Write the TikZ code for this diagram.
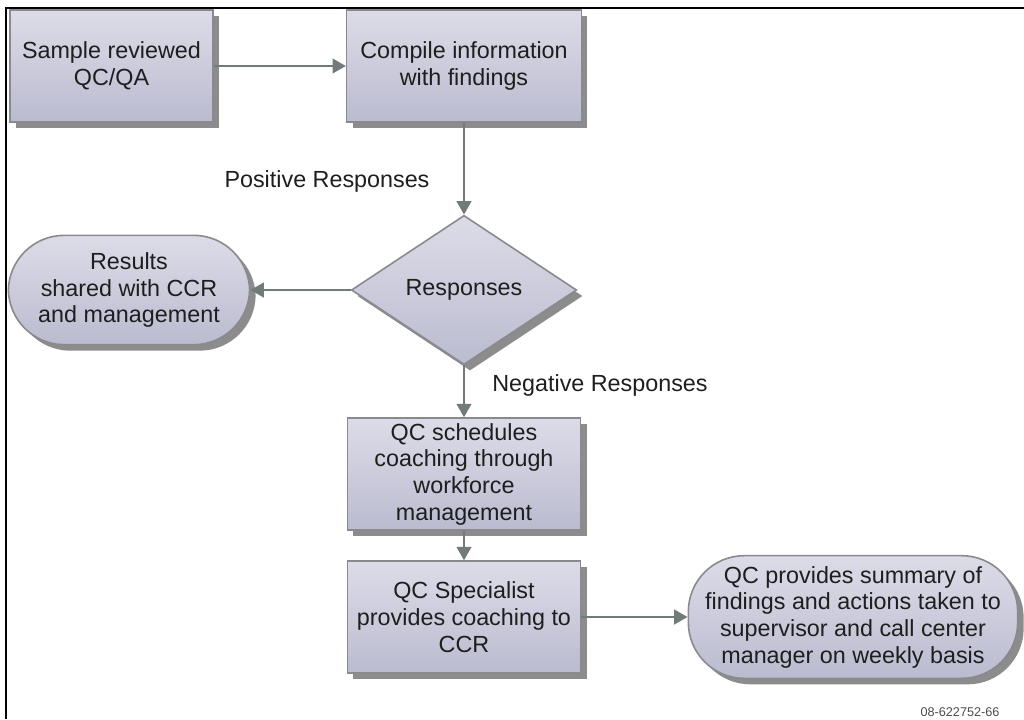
\documentclass[tikz,border=0pt]{standalone}
\usepackage{fontspec}
\setmainfont{Liberation Sans}
\usetikzlibrary{shapes.geometric,shadows,arrows.meta}
\definecolor{boxtop}{HTML}{DCDCE8}
\definecolor{boxbot}{HTML}{BBBBD0}
\definecolor{boxline}{HTML}{8A8A8E}
\definecolor{shade}{HTML}{8C8C8C}
\definecolor{flow}{HTML}{717B79}
\definecolor{ink}{HTML}{1E1E1E}
\tikzset{
  base/.style={draw=boxline, line width=1.2pt, top color=boxtop, bottom color=boxbot,
    text=ink, align=center, font=\fontsize{17.5}{20}\selectfont,
    drop shadow={shadow xshift=4.5pt, shadow yshift=-4.5pt, fill=shade, opacity=1}},
  procbox/.style={base, rectangle, minimum width=#1, minimum height=84pt, inner sep=0pt},
  termbox/.style={base, rectangle, rounded corners=42pt, inner sep=0pt},
  decbox/.style={base, diamond, minimum width=169pt, minimum height=112pt, inner sep=0pt},
  flowline/.style={draw=flow, line width=1.5pt, -{Triangle[length=10pt,width=11pt]}},
  lbl/.style={text=ink, font=\fontsize{17.5}{20}\selectfont}
}
\begin{document}
\begin{tikzpicture}[x=0.75pt,y=-0.75pt]
  \useasboundingbox (0,0) rectangle (1024,719);
  % page frame (top and left edges)
  \draw[black, line width=2pt] (6,719) -- (6,8) -- (1024,8);

  \node[procbox=152pt] (s1) at (111.5,66) {Sample reviewed\\QC/QA};
  \node[procbox=176pt] (s2) at (464,66) {Compile information\\with findings};
  \node[decbox] (dec) at (464,290) {Responses};
  \node[termbox, minimum width=181pt, minimum height=82pt] (res) at (129,290)
    {Results\\shared with CCR\\and management};
  \node[procbox=175pt] (s3) at (464,474)
    {QC schedules\\coaching through\\workforce\\management};
  \node[procbox=175pt] (s4) at (464,617)
    {QC Specialist\\provides coaching to\\CCR};
  \node[termbox, minimum width=247pt, minimum height=92pt] (fin) at (853,617)
    {QC provides summary of\\findings and actions taken to\\supervisor and call center\\manager on weekly basis};

  \node[lbl] (pos) at (327,181) {Positive Responses};
  \node[lbl] (neg) at (600,385) {Negative Responses};
  \node[text=ink!80, font=\fontsize{9.5}{11}\selectfont] (code) at (960,712) {08-622752-66};

  \draw[flowline] (s1.east) -- (s2.west);
  \draw[flowline] (s2.south) -- (dec.north);
  \draw[flowline] (dec.west) -- (res.east);
  \draw[flowline] (dec.south) -- (s3.north);
  \draw[flowline] (s3.south) -- (s4.north);
  \draw[flowline] (s4.east) -- (fin.west);
\end{tikzpicture}
\end{document}
